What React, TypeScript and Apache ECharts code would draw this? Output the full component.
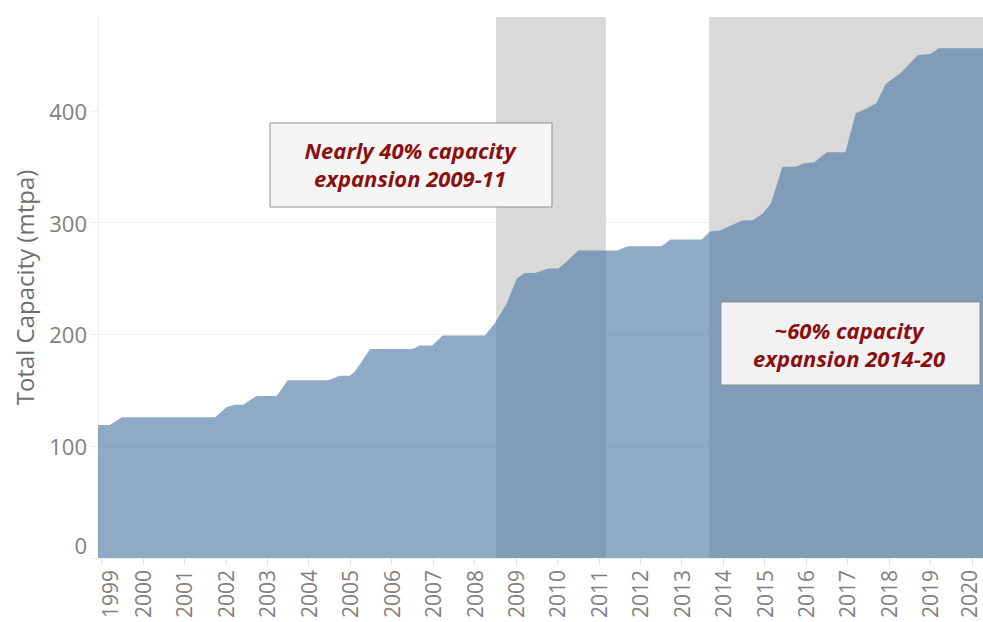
import React, { useEffect, useRef } from "react";
import * as echarts from "echarts";

// Time (decimal years) and total capacity (mtpa)
const TIMES = [
  1998.915, 1999.2, 1999.49, 2001.74, 2002.02, 2002.22, 2002.42, 2002.74, 2003.23, 2003.49,
  2004.47, 2004.75, 2004.99, 2005.12, 2005.48, 2006.5, 2006.68, 2006.98, 2007.23, 2008.25,
  2008.49, 2008.78, 2009.02, 2009.22, 2009.46, 2009.78, 2010.02, 2010.22, 2010.5, 2011.45,
  2011.7, 2012.51, 2012.73, 2013.48, 2013.68, 2013.92, 2014.46, 2014.7, 2014.95, 2015.15,
  2015.43, 2015.75, 2015.94, 2016.2, 2016.5, 2016.95, 2017.2, 2017.45, 2017.7, 2017.92,
  2018.28, 2018.7, 2019.0, 2019.2, 2020.27,
];
const CAPACITY = [
  119, 119, 126, 126, 135, 137, 137, 145, 145, 159,
  159, 163, 163, 167, 187, 187, 190, 190, 199, 199,
  210, 228, 250, 255, 255, 259, 259, 265, 275, 275,
  279, 279, 285, 285, 292, 293, 302, 302, 308, 317,
  350, 350, 353, 354, 363, 363, 398, 402, 407, 424,
  434, 450, 451, 456, 456,
];
const YEAR_TICKS = [
  1999, 2000, 2001, 2002, 2003, 2004, 2005, 2006, 2007, 2008, 2009,
  2010, 2011, 2012, 2013, 2014, 2015, 2016, 2017, 2018, 2019, 2020,
];
const Y_TICKS = [0, 100, 200, 300, 400];
const BAND_STARTS = [2008.52, 2013.66];
const BAND_ENDS = [2011.17, 2020.27];
const X_MIN = 1998.915;
const X_MAX = 2020.27;
const Y_MAX = 484;
const Y_TITLE = "Total Capacity (mtpa)";
const NOTE_1 = ["Nearly 40% capacity", "expansion 2009-11"];
const NOTE_2 = ["~60% capacity", "expansion 2014-20"];

const FONT = "'Open Sans', 'DejaVu Sans', sans-serif";
const NOTE_COLOR = "#8a0f0f";

export default function App() {
  const ref = useRef<HTMLDivElement>(null);

  useEffect(() => {
    if (!ref.current) return;
    const chart = echarts.init(ref.current, null, { renderer: "svg" });
    const seriesData = TIMES.map((t, i) => [t, CAPACITY[i]]);
    const bands = BAND_STARTS.map((s, i) => [
      { xAxis: s, yAxis: 0 },
      { xAxis: BAND_ENDS[i], yAxis: Y_MAX },
    ]);
    const first = YEAR_TICKS[0];
    const last = YEAR_TICKS[YEAR_TICKS.length - 1];
    const xLabelStyle = { fontSize: 21, lineHeight: 18, color: "#808080", fontFamily: FONT };

    chart.setOption({
      animation: false,
      backgroundColor: "#ffffff",
      grid: {
        left: 98,
        right: 0,
        top: 17,
        bottom: 64,
        containLabel: false,
        outerBoundsMode: "none",
      },
      xAxis: {
        type: "value",
        min: X_MIN,
        max: X_MAX,
        splitLine: { show: false },
        axisLine: { show: false },
        axisTick: {
          show: true,
          customValues: YEAR_TICKS,
          length: 7,
          lineStyle: { color: "#e2e2e2" },
        },
        axisLabel: {
          customValues: YEAR_TICKS,
          rotate: 90,
          margin: 12,
          ...xLabelStyle,
          formatter: (v: number) =>
            v === first ? `{s|${v}}` : v === last ? `{e|${v}}` : String(v),
          rich: {
            s: { ...xLabelStyle, padding: [16, 0, 0, 0] },
            e: { ...xLabelStyle, padding: [0, 0, 6, 0] },
          },
        },
      },
      yAxis: {
        type: "value",
        min: 0,
        max: Y_MAX,
        interval: 100,
        name: Y_TITLE,
        nameLocation: "middle",
        nameGap: 62,
        nameTextStyle: { fontSize: 24, color: "#6e6e6e", fontFamily: FONT },
        axisLine: { show: true, lineStyle: { color: "#eeeeee" } },
        axisTick: {
          show: true,
          customValues: Y_TICKS,
          length: 8,
          lineStyle: { color: "#eeeeee" },
        },
        axisLabel: {
          customValues: Y_TICKS,
          fontSize: 22,
          color: "#808080",
          fontFamily: FONT,
          margin: 11,
          formatter: (v: number) => (v === 0 ? "{z|0}" : String(v)),
          rich: {
            z: { fontSize: 22, color: "#808080", fontFamily: FONT, padding: [0, 0, 26, 0] },
          },
        },
        splitLine: { show: true, showMaxLine: false, lineStyle: { color: "#efefef", width: 1 } },
      },
      series: [
        {
          type: "line",
          name: "bands",
          data: [],
          z: -5,
          silent: true,
          markArea: {
            silent: true,
            itemStyle: { color: "#d9d9d9", opacity: 1 },
            data: bands,
          },
        },
        {
          type: "line",
          name: "capacity",
          data: seriesData,
          symbol: "none",
          z: 2,
          lineStyle: { width: 0 },
          areaStyle: { color: "#4e79a7", opacity: 0.63 },
        },
      ],
      graphic: [
        {
          type: "rect",
          z: 100,
          shape: { x: 270, y: 123, width: 282, height: 84 },
          style: { fill: "#f5f5f5", stroke: "#8f8f8f", lineWidth: 1 },
        },
        {
          type: "text",
          z: 101,
          x: 410,
          y: 164,
          style: {
            text: NOTE_1.join("\n"),
            fill: NOTE_COLOR,
            font: `italic bold 22px ${FONT}`,
            lineHeight: 28,
            textAlign: "center",
            textVerticalAlign: "middle",
          },
        },
        {
          type: "rect",
          z: 100,
          shape: { x: 721, y: 302, width: 259, height: 83 },
          style: { fill: "#f2f2f4", stroke: "#8f8f8f", lineWidth: 1 },
        },
        {
          type: "text",
          z: 101,
          x: 849,
          y: 343.5,
          style: {
            text: NOTE_2.join("\n"),
            fill: NOTE_COLOR,
            font: `italic bold 22px ${FONT}`,
            lineHeight: 28,
            textAlign: "center",
            textVerticalAlign: "middle",
          },
        },
      ],
    });

    return () => chart.dispose();
  }, []);

  return (
    <div
      ref={ref}
      style={{ position: "absolute", left: 0, top: 0, width: 983, height: 622 }}
    />
  );
}
